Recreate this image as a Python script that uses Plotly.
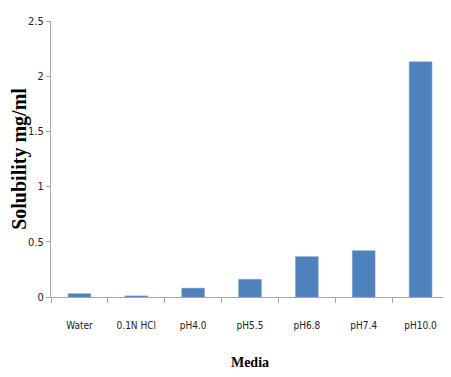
import plotly.graph_objects as go

media = ["Water", "0.1N HCl", "pH4.0", "pH5.5", "pH6.8", "pH7.4", "pH10.0"]
solubility = [0.03, 0.01, 0.08, 0.16, 0.365, 0.42, 2.13]
y_ticks = [0, 0.5, 1, 1.5, 2, 2.5]
y_tick_labels = ["0", "0.5", "1", "1.5", "2", "2.5"]

fig = go.Figure(go.Bar(
    x=media, y=solubility,
    marker=dict(color="#4f81bd", line=dict(color="#6f9bd0", width=0.5)),
    width=0.4,
))

axis_font = dict(family="DejaVu Sans Condensed, Liberation Sans Narrow, Arial Narrow, sans-serif", size=10, color="#222222")
title_font = dict(family="Liberation Serif, Times New Roman, serif", size=14, color="#000000")

# the page body adds an 8px margin, so the figure is sized/offset to compensate
fig.update_layout(
    width=443, height=369,
    margin=dict(l=43, r=2, t=13, b=80),
    paper_bgcolor="white", plot_bgcolor="white",
    showlegend=False,
    xaxis=dict(
        automargin=False, tickangle=0,
        showline=True, linecolor="#a6a6a6", linewidth=1,
        ticks="outside", tickson="boundaries", ticklen=5, tickcolor="#a6a6a6",
        tickfont=axis_font, showgrid=False, ticklabelstandoff=19,
        title=dict(text="<b>Media</b>", font=title_font, standoff=27),
    ),
    yaxis=dict(
        automargin=False,
        range=[0, 2.5], tickvals=y_ticks, ticktext=y_tick_labels,
        showline=True, linecolor="#a6a6a6", linewidth=1,
        ticks="outside", ticklen=4, tickcolor="#a6a6a6",
        tickfont=dict(axis_font, size=11), showgrid=False, zeroline=False,
        title=dict(text="<b>Solubility mg/ml</b>", font=dict(title_font, size=20), standoff=5),
    ),
)

fig.write_html("out.html")
